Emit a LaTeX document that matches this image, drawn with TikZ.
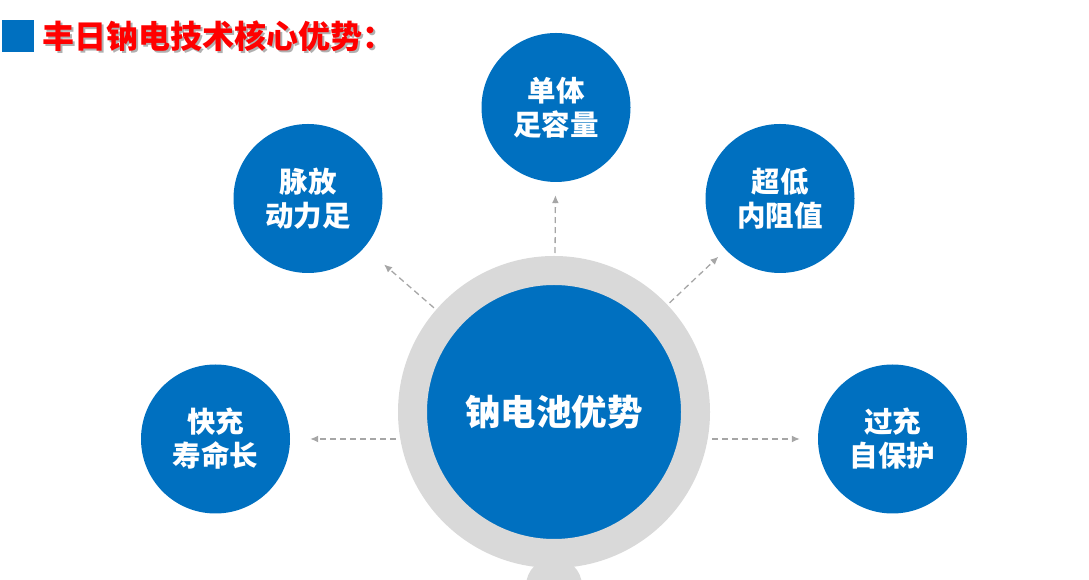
\documentclass[tikz,border=0pt]{standalone}
\usepackage{fontspec}
\newfontfamily\cjk{Noto Sans CJK SC}
\usetikzlibrary{arrows.meta,calc,positioning}
\definecolor{nablue}{HTML}{0070C0}
\definecolor{ringgray}{HTML}{D9D9D9}
\definecolor{ptrgray}{HTML}{A6A6A6}
\definecolor{shade}{HTML}{B0B0B0}
\tikzstyle{ptr}   = [draw=ptrgray, line width=1.3pt, dash pattern=on 6pt off 4pt, -{Latex[length=8pt,width=7pt]}]
\tikzstyle{sat}   = [circle, fill=nablue, text=white, minimum size=149pt, inner sep=0pt, align=center, font=\cjk\bfseries\fontsize{28.5}{34}\selectfont]
\tikzstyle{core}  = [circle, fill=nablue, draw=ringgray, line width=29pt, minimum size=283pt, inner sep=0pt, outer sep=14.5pt, text=white, font=\cjk\bfseries\fontsize{35.5}{40}\selectfont]
\tikzstyle{headline} = [inner sep=0pt, font=\cjk\bfseries\fontsize{32}{36}\selectfont]

\begin{document}
\begin{tikzpicture}[x=1pt, y=1pt]

    \clip (0,0) rectangle (1089,580);

    % title
    \node[fill=nablue, minimum size=32pt, inner sep=0pt] (mark) at (17.5,544) {};
    \node[headline, text=shade, right=10.5pt of mark, yshift=-1.8pt] (titleshadow) {丰日钠电技术核心优势：};
    \node[headline, text=red, right=9pt of mark] (title) {丰日钠电技术核心优势：};

    % centre and satellites
    \node[core] (core) at (554,168) {钠电池优势};
    \node[sat] (cap)   at ($(core)+(2,304.5)$)     {单体\\足容量};
    \node[sat] (pulse) at ($(core)+(-246,213.5)$)  {脉放\\动力足};
    \node[sat] (resist) at ($(core)+(226,213.5)$)  {超低\\内阻值};
    \node[sat] (quick) at ($(core)+(-338.5,-27)$)  {快充\\寿命长};
    \node[sat] (guard) at ($(core)+(338.5,-27)$)   {过充\\自保护};

    \fill[ringgray] ($(core.south)+(0,-18)$) circle (28);

    \path[ptr, shorten <=3pt, shorten >=13pt] (core) -- (cap);
    \path[ptr, shorten <=3pt, shorten >=26pt] (core) -- (pulse);
    \path[ptr, shorten <=3pt, shorten >=10pt] (core) -- (resist);
    \path[ptr, shorten <=2pt, shorten >=20pt] (quick -| core.west) -- (quick.east);
    \path[ptr, shorten <=2pt, shorten >=18pt] (guard -| core.east) -- (guard.west);

\end{tikzpicture}
\end{document}
